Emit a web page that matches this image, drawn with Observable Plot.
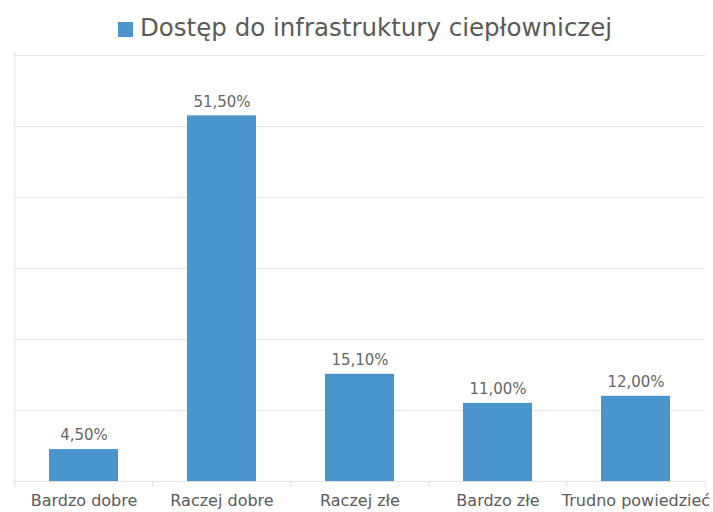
<!DOCTYPE html>
<html><head><meta charset="utf-8">
<script src="https://cdn.jsdelivr.net/npm/d3@7"></script>
<script src="https://cdn.jsdelivr.net/npm/@observablehq/plot@0.6"></script>
<style>
body{margin:0;background:#fff;font-family:"DejaVu Sans",sans-serif;}
#legend{height:50px;position:relative;}
#legend .sw{position:absolute;left:118px;top:22px;width:15px;height:15px;background:#4a95cb;}
#legend .tx{position:absolute;left:140px;top:13px;font-size:24.5px;color:#5a5a5a;line-height:30px;white-space:nowrap;}
</style></head>
<body>
<div id="legend"><span class="sw"></span><span class="tx">Dostęp do infrastruktury ciepłowniczej</span></div>
<div id="chart"></div>
<script>
const categories = ["Bardzo dobre","Raczej dobre","Raczej złe","Bardzo złe","Trudno powiedzieć"];
const values = [4.5, 51.5, 15.1, 11.0, 12.0];
const yTicks = [10,20,30,40,50,60];
const data = categories.map((c,i)=>({c, v: values[i]}));
const fmt = v => v.toFixed(2).replace(".", ",") + "%";
const W = 713, H = 462, mL = 13, mR = 8;
const halfStep = (W - mL - mR) / categories.length / 2;
const chart = Plot.plot({
  width: W, height: H,
  marginTop: 5, marginBottom: 31, marginLeft: mL, marginRight: mR,
  style: {fontFamily: '"DejaVu Sans", sans-serif', fontSize: "15px", color: "#5a5a5a", background: "#fff"},
  x: {domain: categories, paddingInner: 0.5, paddingOuter: 0.25, label: null, axis: null},
  y: {domain: [0, 60], label: null, axis: null},
  marks: [
    Plot.gridY(yTicks, {stroke: "#e6e6e6", strokeOpacity: 1}),
    Plot.ruleY([0], {stroke: "#e3e3e3"}),
    Plot.ruleX(categories, {x: d => d, y1: 0, y2: -0.85, dx: -halfStep, stroke: "#e3e3e3"}),
    Plot.ruleX([categories[categories.length-1]], {y1: 0, y2: -0.85, dx: halfStep, stroke: "#e3e3e3"}),
    Plot.ruleX([categories[0]], {y1: -0.85, y2: 60.5, dx: -halfStep, stroke: "#e3e3e3"}),
    Plot.barY(data, {x: "c", y: "v", fill: "#4a95cb"}),
    Plot.text(data, {x: "c", y: "v", text: d => fmt(d.v), dy: -14, fill: "#666", fontSize: 15}),
    Plot.text(categories, {x: d => d, y: 0, dy: 19, text: d => d, fill: "#5a5a5a", fontSize: 16})
  ]
});
document.getElementById("chart").appendChild(chart);
</script>
</body></html>
